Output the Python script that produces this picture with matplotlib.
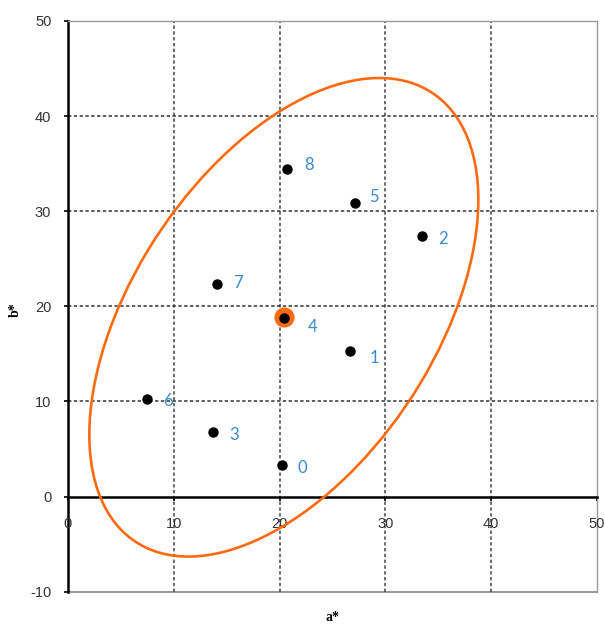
import numpy as np
import matplotlib
matplotlib.use("Agg")
import matplotlib.pyplot as plt
from matplotlib.patches import Ellipse

# ---- data ----
labels = ["0", "1", "2", "3", "4", "5", "6", "7", "8"]
a_vals = [20.2, 26.7, 33.5, 13.7, 20.4, 27.1, 7.5, 14.1, 20.7]
b_vals = [3.3, 15.3, 27.4, 6.8, 18.8, 30.9, 10.3, 22.3, 34.4]

# confidence ellipse (data units)
ell_center = (20.4, 18.85)
ell_width = 55.0
ell_height = 29.3
ell_angle = 61.5

x_ticks = [0, 10, 20, 30, 40, 50]
y_ticks = [-10, 0, 10, 20, 30, 40, 50]

# label offsets in points (dx, dy)
default_off = (15, -2)
special_off = {"4": (21, -6.5), "1": (17, -5), "8": (16, 3), "5": (14, 4), "7": (15, 1)}

fig = plt.figure(figsize=(6.05, 6.24), dpi=100)
ax = fig.add_axes([68/605, 1 - 591.7/624, (597-68)/605, (591.7-21)/624])
ax.set_xlim(0, 50)
ax.set_ylim(-10, 50)

# grid
for xv in x_ticks[1:-1]:
    ax.axvline(xv, color="#444444", lw=1.1, ls=(0, (2.2, 1.6)), zorder=1)
for yv in [10, 20, 30, 40]:
    ax.axhline(yv, color="#333333", lw=1.1, ls=(0, (2.2, 1.6)), zorder=1)

# spines
for s in ["top", "right"]:
    ax.spines[s].set_color("#9a9a9a")
    ax.spines[s].set_linewidth(1.0)
ax.spines["left"].set_color("black")
ax.spines["left"].set_linewidth(1.8)
ax.spines["bottom"].set_position(("data", 0))
ax.spines["bottom"].set_color("black")
ax.spines["bottom"].set_linewidth(1.8)
ax.axhline(-10, color="#9a9a9a", lw=1.5, zorder=0, clip_on=False)

ax.set_xticks(x_ticks)
ax.set_yticks(y_ticks)
ax.set_xticklabels([])
ax.set_yticklabels([str(v) for v in y_ticks])
ax.tick_params(axis="both", direction="out", length=3, width=1.2,
               labelsize=10.5, labelcolor="#333333", color="black")
ax.tick_params(axis="y", pad=9)
for t in ax.get_yticklabels():
    t.set_fontfamily("Liberation Sans")

# x tick labels drawn below the zero line
for v in x_ticks:
    ax.annotate(str(v), (v, 0), xytext=(0, -19.5), textcoords="offset points",
                ha="center", va="center", fontsize=10.5, color="#333333",
                fontfamily="Liberation Sans", annotation_clip=False)

# ellipse
ell = Ellipse(ell_center, ell_width, ell_height, angle=ell_angle,
              fill=False, edgecolor="#ff6a10", lw=1.9, zorder=3)
ax.add_patch(ell)

# mean marker
ax.plot([np.mean(a_vals)], [np.mean(b_vals)], "o", color="#ff6a10",
        markersize=13.5, zorder=4)

# points
ax.plot(a_vals, b_vals, "o", color="black", markersize=6.5, zorder=5, ls="none")

for lab, xv, yv in zip(labels, a_vals, b_vals):
    off = special_off.get(lab, default_off)
    ax.annotate(lab, (xv, yv), xytext=off, textcoords="offset points",
                ha="center", va="center", color="#3a8ad0", fontsize=12,
                fontfamily="Lato", zorder=6)

ax.set_xlabel("a*", fontfamily="Liberation Serif", fontweight="bold",
              fontsize=10, va="center")
ax.xaxis.set_label_coords(0.5, -0.045)
ax.set_ylabel("b*", fontfamily="Liberation Serif", fontweight="bold",
              fontsize=10, va="center")
ax.yaxis.set_label_coords(-0.1, 0.494)

fig.savefig("out.png", dpi=100)
